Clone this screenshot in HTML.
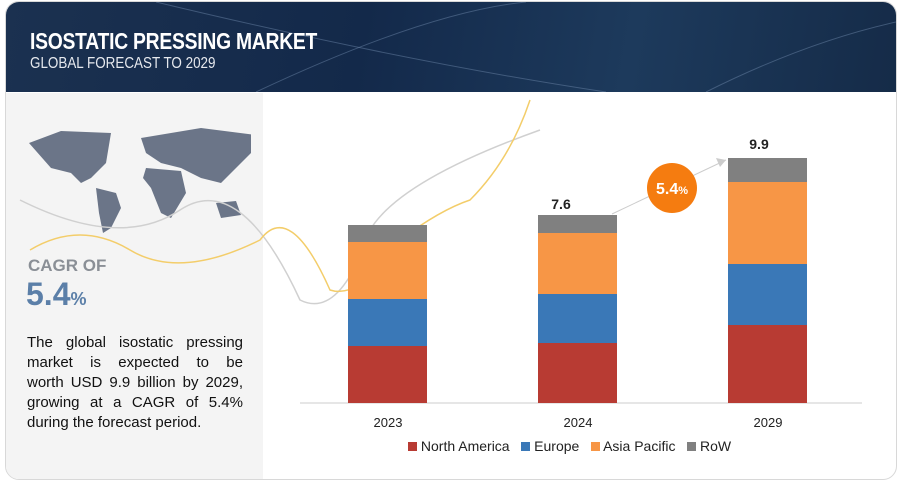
<!DOCTYPE html>
<html><head><meta charset="utf-8"><style>
body{margin:0;width:900px;height:481px;background:#fff;font-family:"Liberation Sans",sans-serif;position:relative;overflow:hidden}
.card{position:absolute;left:5px;top:1px;width:890px;height:477px;border:1px solid #d8d8d8;border-radius:14px;overflow:hidden;background:#fff}
.hdr{position:absolute;left:0;top:0;width:890px;height:90px;background:linear-gradient(100deg,#1b3150 0%,#13294a 40%,#1d3a5c 70%,#152b48 100%)}
.t1{position:absolute;left:24px;top:26px;color:#fff;font-weight:bold;font-size:23px;transform:scaleX(.84);transform-origin:left;letter-spacing:-.3px}
.t2{position:absolute;left:24px;top:53px;color:#e6e9ee;font-size:16px;transform:scaleX(.84);transform-origin:left}
.lp{position:absolute;left:0;top:91px;width:257px;height:386px;background:#f4f4f4}
.bar{position:absolute}
.yl{position:absolute;font-size:13px;color:#222;width:80px;text-align:center}
.ln{text-align:justify;text-align-last:justify;height:20px}
</style></head><body>
<div class="card">
<div class="hdr">
<svg width="890" height="90" style="position:absolute;left:0;top:0">
<path d="M150 0 Q400 60 600 90" stroke="#6a84a6" stroke-width="1" fill="none" opacity=".5"/>
<path d="M250 90 Q420 10 520 0" stroke="#6a84a6" stroke-width="1" fill="none" opacity=".5"/>
<path d="M700 90 Q800 40 890 20" stroke="#6a84a6" stroke-width="1" fill="none" opacity=".5"/>
</svg>
<div class="t1">ISOSTATIC PRESSING MARKET</div>
<div class="t2">GLOBAL FORECAST TO 2029</div>
</div>
<div class="lp">
<svg width="230" height="120" style="position:absolute;left:15px;top:30px">
<path d="M8 20 L40 8 L90 10 L85 40 L70 55 L60 60 L50 50 L30 45 Z" fill="#6b7588"/>
<path d="M75 65 L95 70 L100 85 L90 105 L82 110 L78 90 Z" fill="#6b7588"/>
<path d="M120 15 L180 5 L235 12 L230 30 L215 45 L200 60 L180 55 L160 45 L140 40 L125 30 Z" fill="#6b7588"/>
<path d="M125 45 L160 48 L165 70 L150 95 L140 90 L130 65 L122 55 Z" fill="#6b7588"/>
<path d="M195 80 L215 78 L220 92 L200 95 Z" fill="#6b7588"/>
</svg>
<div style="position:absolute;left:22px;top:163px;font-size:17px;color:#8a8f96;font-weight:bold">CAGR OF</div>
<div style="position:absolute;left:20px;top:183px;font-size:32px;color:#5b7fa8;font-weight:bold">5.4<span style="font-size:18px">%</span></div>
<div style="position:absolute;left:21px;top:240px;width:216px;font-size:15px;line-height:20px;color:#111">
<div class="ln">The global isostatic pressing</div>
<div class="ln">market is expected to be</div>
<div class="ln">worth USD 9.9 billion by 2029,</div>
<div class="ln">growing at a CAGR of 5.4%</div>
<div>during the forecast period.</div>
</div>
</div>
</div>
<svg width="900" height="481" style="position:absolute;left:0;top:0">
<path d="M20 200 Q120 250 180 210 T300 300 Q340 320 370 230 Q400 180 540 130" stroke="#d0d0d0" stroke-width="1.5" fill="none"/>
<path d="M30 250 Q80 220 130 250 T260 240 Q290 200 330 290 Q360 300 400 240 Q440 210 470 200 Q510 160 530 100" stroke="#f3cd6a" stroke-width="1.5" fill="none"/>
<line x1="300" y1="403" x2="862" y2="403" stroke="#ccc" stroke-width="1"/>
<line x1="612" y1="214" x2="726" y2="160" stroke="#ccc" stroke-width="1"/>
<polygon points="726,160 716,158 720,167" fill="#ccc"/>
<circle cx="672" cy="188" r="25" fill="#f57c10"/>
<text x="672" y="194" text-anchor="middle" fill="#fff" font-family="Liberation Sans" font-weight="bold" font-size="16">5.4<tspan font-size="11">%</tspan></text>
</svg>
<div class="bar" style="left:348px;top:225px;width:79px;height:17px;background:#808080"></div>
<div class="bar" style="left:348px;top:242px;width:79px;height:57px;background:#f79646"></div>
<div class="bar" style="left:348px;top:299px;width:79px;height:47px;background:#3a78b7"></div>
<div class="bar" style="left:348px;top:346px;width:79px;height:57px;background:#b83b33"></div>
<div class="bar" style="left:538px;top:215px;width:79px;height:18px;background:#808080"></div>
<div class="bar" style="left:538px;top:233px;width:79px;height:61px;background:#f79646"></div>
<div class="bar" style="left:538px;top:294px;width:79px;height:49px;background:#3a78b7"></div>
<div class="bar" style="left:538px;top:343px;width:79px;height:60px;background:#b83b33"></div>
<div class="bar" style="left:728px;top:158px;width:79px;height:24px;background:#808080"></div>
<div class="bar" style="left:728px;top:182px;width:79px;height:82px;background:#f79646"></div>
<div class="bar" style="left:728px;top:264px;width:79px;height:61px;background:#3a78b7"></div>
<div class="bar" style="left:728px;top:325px;width:79px;height:78px;background:#b83b33"></div>
<div class="yl" style="left:521px;top:196px;font-size:14px;font-weight:bold">7.6</div>
<div class="yl" style="left:719px;top:136px;font-size:14px;font-weight:bold">9.9</div>
<div class="yl" style="left:348px;top:415px">2023</div>
<div class="yl" style="left:538px;top:415px">2024</div>
<div class="yl" style="left:728px;top:415px">2029</div>
<div style="position:absolute;left:408px;top:438px;font-size:14px;color:#222;white-space:nowrap">
<span style="display:inline-block;width:9px;height:9px;background:#b83b33"></span> North America&nbsp;&nbsp;
<span style="display:inline-block;width:9px;height:9px;background:#3a78b7"></span> Europe&nbsp;&nbsp;
<span style="display:inline-block;width:9px;height:9px;background:#f79646"></span> Asia Pacific&nbsp;&nbsp;
<span style="display:inline-block;width:9px;height:9px;background:#808080"></span> RoW</div>
</body></html>
